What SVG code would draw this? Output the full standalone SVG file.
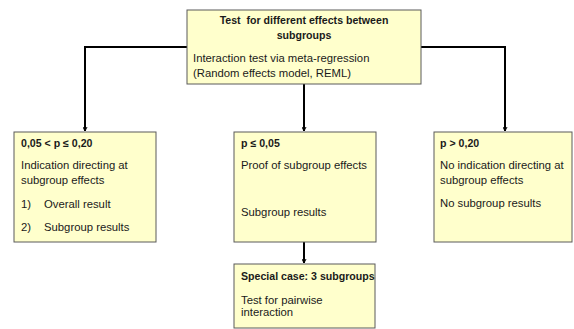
<svg xmlns="http://www.w3.org/2000/svg" width="574" height="329" viewBox="0 0 574 329">
<style>
.box{fill:#FFFFCC;stroke:#5a5a5a;stroke-width:1}
text{font-family:"Liberation Sans",Arial,sans-serif;font-size:11.3px;fill:#1a1a1a}
.b{font-weight:bold;font-size:10.6px}
.c{stroke:#000;stroke-width:2;fill:none}
</style>
<defs>
<marker id="arr" viewBox="0 0 10 10" refX="9" refY="5" markerWidth="5" markerHeight="5" orient="auto" markerUnits="userSpaceOnUse">
<path d="M1,1 L9,5 L1,9" fill="none" stroke="#000" stroke-width="2"/>
</marker>
</defs>
<rect width="574" height="329" fill="#fff"/>
<g id="connectors">
<path class="c" d="M187,47 H85 V131" marker-end="url(#arr)"/>
<path class="c" d="M421,47 H505 V131" marker-end="url(#arr)"/>
<path class="c" d="M304,84 V131" marker-end="url(#arr)"/>
<path class="c" d="M304,242 V263" marker-end="url(#arr)"/>
</g>
<g id="top">
<rect class="box" x="187" y="10" width="234" height="74"/>
<text class="b" x="304" y="24" text-anchor="middle" xml:space="preserve" style="white-space:pre">Test  for different effects between</text>
<text class="b" x="304" y="39" text-anchor="middle">subgroups</text>
<text x="193" y="62">Interaction test via meta-regression</text>
<text x="193" y="77">(Random effects model, REML)</text>
</g>
<g id="left">
<rect class="box" x="14" y="132" width="142" height="110"/>
<text class="b" x="21" y="147">0,05 &lt; p ≤ 0,20</text>
<text x="21" y="169">Indication directing at</text>
<text x="21" y="184">subgroup effects</text>
<text x="21" y="208">1)</text><text x="44" y="208">Overall result</text>
<text x="21" y="231">2)</text><text x="44" y="231">Subgroup results</text>
</g>
<g id="middle">
<rect class="box" x="234" y="132" width="142" height="110"/>
<text class="b" x="241" y="147">p ≤ 0,05</text>
<text x="241" y="169">Proof of subgroup effects</text>
<text x="241" y="216">Subgroup results</text>
</g>
<g id="right">
<rect class="box" x="434" y="132" width="138" height="110"/>
<text class="b" x="440" y="147">p &gt; 0,20</text>
<text x="440" y="169">No indication directing at</text>
<text x="440" y="184">subgroup effects</text>
<text x="440" y="207">No subgroup results</text>
</g>
<g id="special">
<rect class="box" x="234" y="264" width="141" height="64"/>
<text class="b" x="241" y="280">Special case: 3 subgroups</text>
<text x="241" y="304">Test for pairwise</text>
<text x="241" y="316">interaction</text>
</g>
</svg>
